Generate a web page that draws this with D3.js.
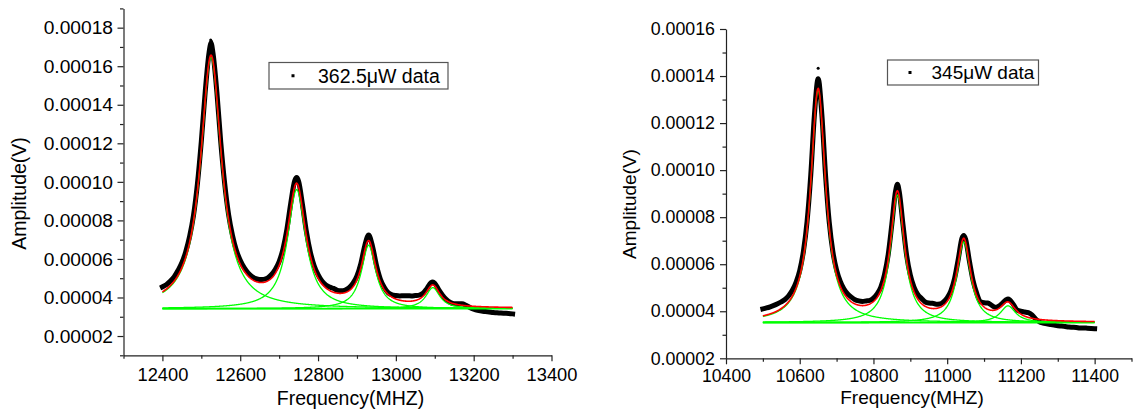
<!DOCTYPE html>
<html><head><meta charset="utf-8">
<script src="https://cdn.jsdelivr.net/npm/d3@7"></script>
<style>
body{margin:0;background:#fff}
svg{display:block}
text{font-family:Arial,"Liberation Sans",sans-serif;fill:#000}
</style></head>
<body><svg id="chart" width="1134" height="410"></svg>
<script>
// ---------- DATA (amplitudes in units of 1e-5 V) ----------
const leftLegend = "362.5\u03bcW data";
const rightLegend = "345\u03bcW data";

const leftFreq = [12400,12410,12420,12430,12440,12450,12460,12470,12480,12490,12500,12510,12520,12525,12530,12540,12550,12560,12570,12580,12590,12600,12610,12620,12630,12640,12650,12660,12670,12680,12690,12700,12710,12720,12730,12740,12745,12750,12760,12770,12780,12790,12800,12810,12820,12830,12840,12850,12860,12870,12880,12890,12900,12910,12920,12930,12940,12950,12960,12970,12980,12990,13000,13010,13020,13030,13040,13050,13060,13070,13080,13090,13095,13100,13110,13120,13130,13140,13150,13160,13170,13180,13190,13200,13210,13220,13230,13240,13250,13260,13270,13280,13290,13300];
const leftAmp = [4.55,4.66,4.84,5.07,5.40,5.80,6.38,7.17,8.27,9.90,12.10,14.67,16.72,17.20,16.68,14.65,12.05,9.92,8.31,7.23,6.45,5.93,5.55,5.28,5.09,4.98,4.93,4.94,5.00,5.18,5.45,5.86,6.53,7.55,8.91,10.05,10.22,10.03,8.82,7.43,6.37,5.65,5.18,4.85,4.65,4.54,4.47,4.37,4.35,4.39,4.51,4.74,5.12,5.76,6.68,7.24,6.65,5.68,4.96,4.53,4.25,4.14,4.10,4.08,4.09,4.09,4.08,4.10,4.12,4.22,4.47,4.76,4.80,4.74,4.41,4.12,3.89,3.74,3.67,3.67,3.67,3.60,3.48,3.39,3.33,3.30,3.27,3.25,3.22,3.21,3.19,3.18,3.17,3.15];
const leftSpikeFreq = [12524, 12526];
const leftSpikeAmp = [17.36, 17.30];
// Lorentz fit components
const leftBaseline = 3.42;
const leftPeakCenters = [12525, 12745, 12930, 13095];
const leftPeakHeights = [13.04, 6.18, 3.29, 1.09];
const leftPeakWidths = [65, 57, 45, 44];

const rightFreq = [10500,10510,10520,10530,10540,10550,10560,10570,10580,10590,10600,10610,10620,10630,10640,10650,10660,10670,10680,10690,10700,10710,10720,10730,10740,10750,10760,10770,10780,10790,10800,10810,10820,10830,10840,10850,10860,10865,10870,10880,10890,10900,10910,10920,10930,10940,10950,10960,10970,10980,10990,11000,11010,11020,11030,11040,11045,11050,11060,11070,11080,11090,11100,11110,11120,11130,11140,11150,11160,11165,11170,11180,11190,11200,11210,11220,11230,11240,11250,11260,11270,11280,11290,11300,11310,11320,11330,11340,11350,11360,11370,11380,11390,11400];
const rightAmp = [4.10,4.14,4.19,4.25,4.32,4.40,4.50,4.66,4.89,5.23,5.73,6.55,7.83,9.81,12.38,13.88,12.37,9.79,7.79,6.52,5.75,5.27,4.95,4.74,4.60,4.49,4.44,4.42,4.44,4.46,4.56,4.74,5.03,5.56,6.41,7.72,9.11,9.40,9.08,7.70,6.38,5.54,5.03,4.72,4.55,4.40,4.35,4.34,4.30,4.31,4.40,4.57,4.87,5.39,6.21,7.10,7.22,7.06,6.16,5.32,4.77,4.41,4.36,4.35,4.26,4.17,4.22,4.35,4.49,4.52,4.48,4.28,4.05,4.00,3.97,3.94,3.85,3.67,3.55,3.50,3.47,3.44,3.41,3.38,3.37,3.35,3.33,3.32,3.31,3.29,3.29,3.28,3.27,3.26];
const rightSpikeFreq = [10650];
const rightSpikeAmp = [14.33];
const rightBaseline = 3.52;
const rightPeakCenters = [10650, 10865, 11045, 11165];
const rightPeakHeights = [9.88, 5.42, 3.43, 0.71];
const rightPeakWidths = [49, 46, 45, 50];

const leftXTicks = [12400,12600,12800,13000,13200,13400];
const leftXMinor = [12300,12500,12700,12900,13100,13300];
const leftYTicks = [2,4,6,8,10,12,14,16,18];
const leftYMinor = [1,3,5,7,9,11,13,15,17,19];
const rightXTicks = [10400,10600,10800,11000,11200,11400];
const rightXMinor = [10500,10700,10900,11100,11300,11500];
const rightYTicks = [2,4,6,8,10,12,14,16];
const rightYMinor = [3,5,7,9,11,13,15];

const xTitle = "Frequency(MHZ)";
const yTitle = "Amplitude(V)";

// ---------- DRAWING ----------
const svg = d3.select("#chart");
const fmtY = v => (v * 1e-5).toFixed(5);
const fmtX = d3.format("d");

function lorentz(f, c, h, w) { return h / (1 + 4 * (f - c) * (f - c) / (w * w)); }

function panel(cfg) {
  const g = svg.append("g");
  const x = d3.scaleLinear().domain(cfg.xDomain).range(cfg.xRange);
  const y = d3.scaleLinear().domain(cfg.yDomain).range(cfg.yRange);
  const ax0 = cfg.xRange[0], ay0 = cfg.yRange[0];

  // data band
  const pts = cfg.freq.map((f, i) => [f, cfg.amp[i]]);
  const line = d3.line().x(d => x(d[0])).y(d => y(d[1])).curve(d3.curveMonotoneX);
  g.append("path").attr("d", line(pts)).attr("fill", "none")
    .attr("stroke", "#000").attr("stroke-width", cfg.band)
    .attr("stroke-linejoin", "round").attr("stroke-linecap", "square");
  g.selectAll(".spk").data(cfg.spikeF.map((f, i) => [f, cfg.spikeA[i]])).join("circle")
    .attr("cx", d => x(d[0])).attr("cy", d => y(d[1])).attr("r", 1.5).attr("fill", "#000");

  // fit curves
  const fs = d3.range(cfg.fitRange[0], cfg.fitRange[1] + 0.5, 1);
  const fl = d3.line().x(d => x(d[0])).y(d => y(d[1]));
  g.append("path").attr("d", fl([[cfg.fitRange[0], cfg.base], [cfg.fitRange[1], cfg.base]]))
    .attr("fill", "none").attr("stroke", "#00ff00").attr("stroke-width", 1.8);
  cfg.centers.forEach((c, i) => {
    const comp = fs.map(f => [f, cfg.base + lorentz(f, c, cfg.heights[i], cfg.widths[i])]);
    g.append("path").attr("d", fl(comp)).attr("fill", "none")
      .attr("stroke", "#00ff00").attr("stroke-width", 1.3);
  });
  const total = fs.map(f => [f, cfg.base + d3.sum(cfg.centers, (c, i) => lorentz(f, c, cfg.heights[i], cfg.widths[i]))]);
  g.append("path").attr("d", fl(total)).attr("fill", "none")
    .attr("stroke", "#ff0000").attr("stroke-width", 1.6);

  // axes
  const axX = g.append("g").attr("transform", `translate(0,${ay0})`)
    .call(d3.axisBottom(x).tickValues(cfg.xTicks).tickFormat(fmtX).tickSize(6).tickSizeOuter(0).tickPadding(cfg.xPad));
  g.append("g").attr("transform", `translate(0,${ay0})`)
    .call(d3.axisBottom(x).tickValues(cfg.xMinor).tickSize(3.5).tickSizeOuter(0).tickFormat(""))
    .select(".domain").remove();
  const axY = g.append("g").attr("transform", `translate(${ax0},0)`)
    .call(d3.axisLeft(y).tickValues(cfg.yTicks).tickFormat(fmtY).tickSize(6).tickSizeOuter(0).tickPadding(cfg.yPad));
  g.append("g").attr("transform", `translate(${ax0},0)`)
    .call(d3.axisLeft(y).tickValues(cfg.yMinor).tickSize(3.5).tickSizeOuter(0).tickFormat(""))
    .select(".domain").remove();
  g.selectAll(".domain, .tick line").attr("stroke", "#222").attr("stroke-width", 1.2);
  axX.selectAll("text").attr("font-size", cfg.xTickFont).attr("fill", "#000").attr("font-family", "Arial, Liberation Sans, sans-serif");
  axY.selectAll("text").attr("font-size", cfg.yTickFont).attr("fill", "#000").attr("font-family", "Arial, Liberation Sans, sans-serif");

  // titles
  g.append("text").attr("x", cfg.xTitlePos[0]).attr("y", cfg.xTitlePos[1])
    .attr("text-anchor", "middle").attr("font-size", cfg.titleFont).text(xTitle);
  g.append("text").attr("transform", `translate(${cfg.yTitlePos[0]},${cfg.yTitlePos[1]}) rotate(-90)`)
    .attr("text-anchor", "middle").attr("font-size", cfg.titleFont).text(yTitle);

  // legend
  const L = cfg.legend;
  g.append("rect").attr("x", L.x).attr("y", L.y).attr("width", L.w).attr("height", L.h)
    .attr("fill", "#fff").attr("stroke", "#555").attr("stroke-width", 1.2);
  g.append("rect").attr("x", L.dotX - 1.5).attr("y", L.y + L.h / 2 - 1.5).attr("width", 3).attr("height", 3).attr("fill", "#000");
  g.append("text").attr("x", L.textX).attr("y", L.y + L.h / 2).attr("dy", "0.36em")
    .attr("font-size", cfg.legendFont).text(L.text);
}

panel({
  xDomain: [12300, 13400], xRange: [123.5, 551.5],
  yDomain: [1, 19], yRange: [355.3, 8.4],
  freq: leftFreq, amp: leftAmp, spikeF: leftSpikeFreq, spikeA: leftSpikeAmp, band: 5,
  base: leftBaseline, centers: leftPeakCenters, heights: leftPeakHeights, widths: leftPeakWidths,
  fitRange: [12400, 13300],
  xTicks: leftXTicks, xMinor: leftXMinor, yTicks: leftYTicks, yMinor: leftYMinor,
  xPad: 7, yPad: 4.5, xTickFont: 18.3, yTickFont: 19.2, titleFont: 19.5, legendFont: 19.5,
  xTitlePos: [350.5, 404.5], yTitlePos: [26, 193.5],
  legend: { x: 269, y: 62.5, w: 179, h: 26.5, dotX: 293, textX: 318, text: leftLegend }
});

panel({
  xDomain: [10400, 11500], xRange: [726, 1131.5],
  yDomain: [2, 16], yRange: [358.3, 29],
  freq: rightFreq, amp: rightAmp, spikeF: rightSpikeFreq, spikeA: rightSpikeAmp, band: 5,
  base: rightBaseline, centers: rightPeakCenters, heights: rightPeakHeights, widths: rightPeakWidths,
  fitRange: [10500, 11400],
  xTicks: rightXTicks, xMinor: rightXMinor, yTicks: rightYTicks, yMinor: rightYMinor,
  xPad: 5.7, yPad: 5, xTickFont: 17.6, yTickFont: 17.8, titleFont: 19, legendFont: 19,
  xTitlePos: [912, 404], yTitlePos: [635.5, 204],
  legend: { x: 887.5, y: 60, w: 151, h: 25, dotX: 910, textX: 931.5, text: rightLegend }
});
</script></body></html>
